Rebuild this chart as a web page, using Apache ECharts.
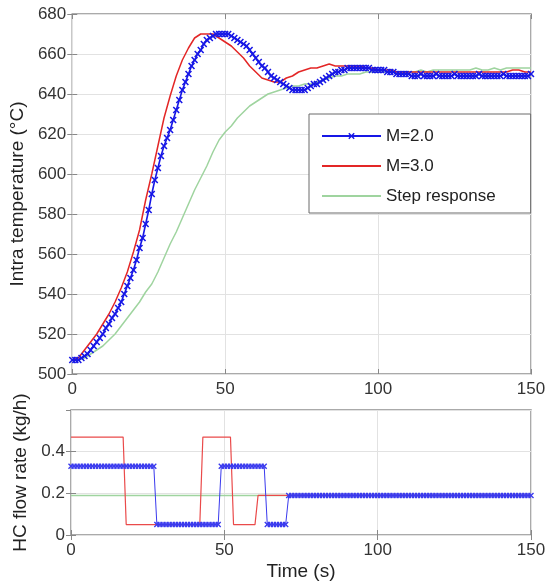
<!DOCTYPE html>
<html>
<head>
<meta charset="utf-8">
<script src="https://cdn.jsdelivr.net/npm/echarts@6/dist/echarts.min.js"></script>
<style>
html,body{margin:0;padding:0;background:#fff;}
#chart{width:549px;height:585px;}
</style>
</head>
<body>
<div id="chart"></div>
<script>
// ---------- DATA ----------
const legendNames = ['M=2.0', 'M=3.0', 'Step response'];
const xTicks = [0, 50, 100, 150];

// Temperature, M=2.0, sampled every 1 s (t = 0..150)
const tempM2 = [
  507,507,507,508,509,510,512,514,516,518,
  520,523,525,528,530,533,536,540,544,548,
  552,557,563,568,575,582,590,597,603,609,
  614,618,622,627,632,637,642,646,650,654,
  657,660,662,665,667,668,669,670,670,670,
  670,670,669,668,667,666,665,664,662,660,
  658,656,654,653,651,649,648,647,646,645,
  644,643,642,642,642,642,642,643,644,645,
  645,646,647,648,649,650,651,651,652,652,
  653,653,653,653,653,653,653,653,652,652,
  652,652,652,651,651,651,650,650,650,650,
  650,649,649,649,650,649,649,649,649,650,
  649,649,649,649,649,650,649,649,649,649,
  649,649,649,650,649,649,649,649,649,649,
  649,650,649,649,649,649,649,649,649,649,
  650
];
// Temperature, M=3.0, sampled every 2 s (t = 0..150)
const tempM3 = [
  507,508,512,516,520,525,530,536,543,551,
  561,572,587,600,614,628,639,649,657,663,
  668,670,670,670,668,666,664,661,658,654,
  651,648,647,646,646,648,649,651,652,653,
  653,654,655,654,654,654,654,654,653,653,
  652,652,652,651,651,651,651,651,651,651,
  651,651,651,651,651,651,651,651,651,651,
  651,651,652,652,651,651
];
// Temperature, step response, sampled every 2 s (t = 0..150)
const tempStep = [
  507,507,508,510,512,514,517,520,524,528,
  532,536,541,545,551,558,565,571,578,585,
  592,598,604,611,617,621,624,628,631,634,
  636,638,640,641,642,643,644,644,645,645,
  646,647,648,649,649,650,650,650,651,651,
  651,651,651,651,651,651,651,652,651,652,
  652,652,652,652,652,652,653,652,652,653,
  652,653,653,653,653,653
];

// HC flow rate, M=2.0, sampled every 1 s (t = 0..150)
const flowM2 = [
  0.33,0.33,0.33,0.33,0.33,0.33,0.33,0.33,0.33,0.33,
  0.33,0.33,0.33,0.33,0.33,0.33,0.33,0.33,0.33,0.33,
  0.33,0.33,0.33,0.33,0.33,0.33,0.33,0.33,0.05,0.05,
  0.05,0.05,0.05,0.05,0.05,0.05,0.05,0.05,0.05,0.05,
  0.05,0.05,0.05,0.05,0.05,0.05,0.05,0.05,0.05,0.33,
  0.33,0.33,0.33,0.33,0.33,0.33,0.33,0.33,0.33,0.33,
  0.33,0.33,0.33,0.33,0.05,0.05,0.05,0.05,0.05,0.05,
  0.05,0.19,0.19,0.19,0.19,0.19,0.19,0.19,0.19,0.19,
  0.19,0.19,0.19,0.19,0.19,0.19,0.19,0.19,0.19,0.19,
  0.19,0.19,0.19,0.19,0.19,0.19,0.19,0.19,0.19,0.19,
  0.19,0.19,0.19,0.19,0.19,0.19,0.19,0.19,0.19,0.19,
  0.19,0.19,0.19,0.19,0.19,0.19,0.19,0.19,0.19,0.19,
  0.19,0.19,0.19,0.19,0.19,0.19,0.19,0.19,0.19,0.19,
  0.19,0.19,0.19,0.19,0.19,0.19,0.19,0.19,0.19,0.19,
  0.19,0.19,0.19,0.19,0.19,0.19,0.19,0.19,0.19,0.19,
  0.19
];
// HC flow rate, M=3.0, breakpoints
const flowM3Time = [0, 17, 18, 42, 43, 52, 53, 60, 61, 150];
const flowM3 = [0.47, 0.47, 0.05, 0.05, 0.47, 0.47, 0.05, 0.05, 0.19, 0.19];
// HC flow rate, step response
const flowStepTime = [0, 150];
const flowStep = [0.19, 0.19];

// ---------- BUILD ----------
const pairs = (vals, step) => vals.map((v, i) => [i * step, v]);
const pairsT = (ts, vals) => ts.map((t, i) => [t, vals[i]]);

const BLUE = '#1717e6';
const RED = '#e32626';
const GREEN = '#9fd49f';
const FONT = '"Liberation Sans", Arial, Helvetica, sans-serif';
const XSYM = 'path://M0,1.6L1.6,0L5,3.4L8.4,0L10,1.6L6.6,5L10,8.4L8.4,10L5,6.6L1.6,10L0,8.4L3.4,5Z';

const gridLine = { show: true, lineStyle: { color: '#e2e2e2', width: 1 } };
const tickIn = { show: true, inside: true, length: 5, lineStyle: { color: '#888', width: 1 } };
const lbl = { fontSize: 17, color: '#333', fontFamily: FONT };

function xAx(grid, pos, labels, extra) {
  return Object.assign({
    type: 'value', gridIndex: grid, position: pos, min: 0, max: 150, interval: 50,
    axisLine: { show: false },
    axisTick: tickIn,
    axisLabel: Object.assign({ show: labels, margin: 7 }, lbl),
    splitLine: pos === 'bottom' ? gridLine : { show: false }
  }, extra || {});
}
function yAx(grid, pos, labels, min, max, interval, extra) {
  return Object.assign({
    type: 'value', gridIndex: grid, position: pos, min: min, max: max, interval: interval,
    axisLine: { show: false },
    axisTick: tickIn,
    axisLabel: Object.assign({ show: labels, margin: 6 }, lbl),
    splitLine: pos === 'left' ? gridLine : { show: false }
  }, extra || {});
}

const nameStyle = { fontSize: 19, color: '#222', fontFamily: FONT };

const option = {
  animation: false,
  backgroundColor: '#fff',
  textStyle: { fontFamily: FONT },
  grid: [
    { left: 71, top: 14, width: 460, height: 360, show: true, borderColor: '#8f8f8f', borderWidth: 1.5, backgroundColor: '#fff' },
    { left: 71, top: 410, width: 460, height: 125, show: true, borderColor: '#8f8f8f', borderWidth: 1.5, backgroundColor: '#fff' }
  ],
  xAxis: [
    xAx(0, 'bottom', true),
    xAx(0, 'top', false),
    xAx(1, 'bottom', true, { name: 'Time (s)', nameLocation: 'middle', nameGap: 27, nameTextStyle: nameStyle }),
    xAx(1, 'top', false)
  ],
  yAxis: [
    yAx(0, 'left', true, 500, 680, 20, { name: 'Intra temperature (°C)', nameLocation: 'middle', nameGap: 39, nameTextStyle: nameStyle }),
    yAx(0, 'right', false, 500, 680, 20),
    yAx(1, 'left', true, 0, 0.6, 0.2, { name: 'HC flow rate (kg/h)', nameLocation: 'middle', nameGap: 39, nameTextStyle: nameStyle,
      axisLabel: Object.assign({ show: true, margin: 6, showMaxLabel: false }, lbl) }),
    yAx(1, 'right', false, 0, 0.6, 0.2)
  ],
  legend: {
    data: [
      { name: legendNames[0] },
      { name: legendNames[1], itemStyle: { opacity: 0 } },
      { name: legendNames[2], itemStyle: { opacity: 0 } }
    ],
    orient: 'vertical',
    left: 309, top: 114,
    padding: [12, 35, 7, 12],
    itemWidth: 59, itemHeight: 8, itemGap: 10,
    backgroundColor: '#fff',
    borderColor: '#6a6a6a', borderWidth: 1,
    textStyle: { fontSize: 17, color: '#222', fontFamily: FONT, lineHeight: 20 }
  },
  series: [
    { name: 'Step response', type: 'line', xAxisIndex: 0, yAxisIndex: 0, data: pairs(tempStep, 2),
      showSymbol: false, symbol: 'none', lineStyle: { color: GREEN, width: 1.5 }, itemStyle: { color: GREEN }, z: 2 },
    { name: 'M=3.0', type: 'line', xAxisIndex: 0, yAxisIndex: 0, data: pairs(tempM3, 2),
      showSymbol: false, symbol: 'none', lineStyle: { color: RED, width: 1.5 }, itemStyle: { color: RED }, z: 3 },
    { name: 'M=2.0', type: 'line', xAxisIndex: 0, yAxisIndex: 0, data: pairs(tempM2, 1),
      symbol: XSYM, symbolSize: 7, showAllSymbol: true, lineStyle: { color: BLUE, width: 1.6 }, itemStyle: { color: BLUE }, z: 4 },

    { name: 'Step response', type: 'line', xAxisIndex: 2, yAxisIndex: 2, data: pairsT(flowStepTime, flowStep),
      showSymbol: false, symbol: 'none', lineStyle: { color: GREEN, width: 1.5 }, itemStyle: { color: GREEN }, z: 2 },
    { name: 'M=3.0', type: 'line', xAxisIndex: 2, yAxisIndex: 2, data: pairsT(flowM3Time, flowM3),
      showSymbol: false, symbol: 'none', lineStyle: { color: '#ea4a4a', width: 1.2 }, itemStyle: { color: RED }, z: 3 },
    { name: 'M=2.0', type: 'line', xAxisIndex: 2, yAxisIndex: 2, data: pairs(flowM2, 1),
      symbol: XSYM, symbolSize: 6, showAllSymbol: true, lineStyle: { color: '#3a3aee', width: 1 }, itemStyle: { color: '#3a3aee' }, z: 4 }
  ]
};

const chart = echarts.init(document.getElementById('chart'), null, { renderer: 'canvas' });
chart.setOption(option);
</script>
</body>
</html>
